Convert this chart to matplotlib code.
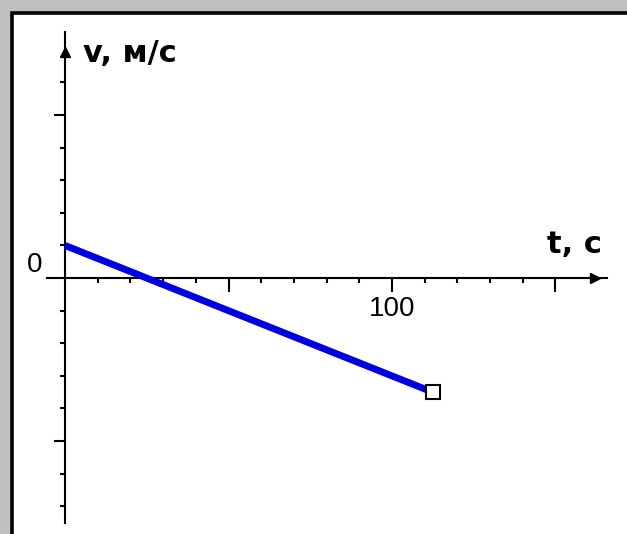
import matplotlib.pyplot as plt
from matplotlib.patches import Rectangle
from matplotlib.ticker import FixedLocator

# velocity against time: one straight segment ending in an open square
t = [0, 112.5]
v = [1.0, -3.5]

x_major = [50, 100, 150]
x_major_labels = ['', '100', '']
x_minor = [10, 20, 30, 40, 60, 70, 80, 90, 110, 120, 130, 140]
y_major = [-5, 5]
y_minor = [-7, -6, -4, -3, -2, -1, 1, 2, 3, 4, 6]

num_font = ['Liberation Sans Narrow', 'Liberation Sans', 'DejaVu Sans']

fig = plt.figure(figsize=(6.27, 5.34), dpi=100, facecolor='#c0c0c0')
# white panel with a dark frame on the left and top
fig.patches.append(Rectangle((12 / 627, -0.05), 1.0, 1.05 - 12.5 / 534,
                             transform=fig.transFigure, facecolor='white',
                             edgecolor='black', lw=2.6, zorder=-1))

ax = fig.add_axes([0, 0, 1, 1])
ax.patch.set_visible(False)
ax.set_xlim(-19.9, 171.9)
ax.set_ylim(-7.85, 8.53)

for side in ['top', 'right']:
    ax.spines[side].set_visible(False)
ax.spines['left'].set_position(('data', 0))
ax.spines['bottom'].set_position(('data', 0))
ax.spines['left'].set_bounds(-7.52, 7.55)
ax.spines['bottom'].set_bounds(-5.5, 165.7)
ax.spines['left'].set_linewidth(1.5)
ax.spines['bottom'].set_linewidth(1.5)

ax.xaxis.set_major_locator(FixedLocator(x_major))
ax.xaxis.set_minor_locator(FixedLocator(x_minor))
ax.set_xticklabels(x_major_labels, fontfamily=num_font, fontsize=20)
ax.yaxis.set_major_locator(FixedLocator(y_major))
ax.yaxis.set_minor_locator(FixedLocator(y_minor))
ax.set_yticklabels([])

ax.tick_params(axis='x', which='major', direction='out', length=10, width=1.5, pad=3)
ax.tick_params(axis='x', which='minor', direction='out', length=3.5, width=1.5)
ax.tick_params(axis='y', which='major', direction='out', length=8, width=1.5, labelleft=False)
ax.tick_params(axis='y', which='minor', direction='out', length=3.5, width=1.5)

# arrowheads on the axes
ax.plot([0], [6.95], marker='^', ms=6.5, color='black', clip_on=False)
ax.plot([162], [0], marker='>', ms=6.5, color='black', clip_on=False)

ax.plot(t, v, color='#0000d8', lw=5, solid_capstyle='butt',
        marker='s', markevery=[1], ms=10, mfc='white', mec='black', mew=1.5, zorder=3)

ax.text(-9.2, 0.4, '0', fontfamily=num_font, fontsize=20, ha='center', va='center')
ax.text(5.5, 6.63, 'v, м/с', fontweight='bold', fontsize=22, ha='left', va='baseline')
ax.text(147.4, 0.77, 't, с', fontweight='bold', fontsize=22, ha='left', va='baseline')

fig.savefig('out.png', dpi=100, facecolor=fig.get_facecolor())
